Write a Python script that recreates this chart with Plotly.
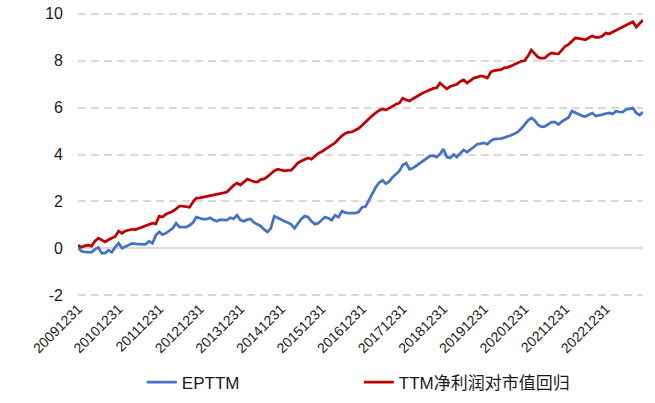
import pandas as pd
import plotly.graph_objects as go

# 月度日期（20091231 起，至 20231130）
dates = pd.date_range('2009-12-31', periods=168, freq='ME').strftime('%Y%m%d').tolist()
tick_labels = dates[::12]

y_ticks = [-2, 0, 2, 4, 6, 8, 10]

ep_ttm = [
    0.04, -0.13, -0.15, -0.17, -0.17, -0.05, 0.04, -0.21, -0.21, -0.09, -0.17, 0.05,
    0.21, 0.00, 0.08, 0.14, 0.21, 0.19, 0.17, 0.17, 0.17, 0.30, 0.21, 0.55,
    0.70, 0.58, 0.65, 0.74, 0.85, 1.07, 0.90, 0.90, 0.90, 0.98, 1.10, 1.33,
    1.28, 1.24, 1.24, 1.30, 1.22, 1.15, 1.22, 1.22, 1.20, 1.30, 1.26, 1.41,
    1.20, 1.15, 1.22, 1.25, 1.10, 1.02, 0.95, 0.80, 0.70, 0.85, 1.37, 1.30,
    1.22, 1.15, 1.10, 1.02, 0.85, 1.05, 1.25, 1.37, 1.33, 1.15, 1.03, 1.07,
    1.20, 1.33, 1.28, 1.20, 1.41, 1.33, 1.58, 1.52, 1.50, 1.50, 1.50, 1.55,
    1.75, 1.78, 2.05, 2.35, 2.60, 2.80, 2.90, 2.75, 2.85, 3.03, 3.18, 3.30,
    3.55, 3.63, 3.37, 3.42, 3.52, 3.63, 3.75, 3.85, 3.93, 3.95, 3.89, 4.02,
    4.23, 3.89, 3.85, 4.00, 3.89, 4.05, 4.19, 4.10, 4.20, 4.32, 4.44, 4.47,
    4.49, 4.44, 4.58, 4.66, 4.66, 4.68, 4.72, 4.76, 4.82, 4.88, 4.96, 5.10,
    5.26, 5.45, 5.56, 5.45, 5.26, 5.18, 5.20, 5.28, 5.38, 5.38, 5.28, 5.40,
    5.51, 5.58, 5.85, 5.80, 5.72, 5.65, 5.62, 5.70, 5.77, 5.64, 5.66, 5.70,
    5.75, 5.77, 5.73, 5.85, 5.82, 5.81, 5.92, 5.96, 5.98, 5.77, 5.68, 5.81,
]

ttm_reg = [
    0.13, 0.04, 0.10, 0.13, 0.09, 0.30, 0.43, 0.34, 0.27, 0.36, 0.42, 0.50,
    0.73, 0.64, 0.74, 0.79, 0.81, 0.80, 0.86, 0.92, 0.98, 1.04, 1.07, 1.04,
    1.37, 1.33, 1.45, 1.52, 1.58, 1.68, 1.80, 1.80, 1.78, 1.75, 1.98, 2.14,
    2.15, 2.18, 2.18, 2.22, 2.26, 2.28, 2.30, 2.36, 2.40, 2.55, 2.68, 2.78,
    2.70, 2.82, 2.95, 2.90, 2.84, 2.82, 2.93, 2.96, 3.05, 3.18, 3.30, 3.37,
    3.34, 3.30, 3.32, 3.33, 3.48, 3.64, 3.72, 3.80, 3.85, 3.80, 3.94, 4.05,
    4.12, 4.22, 4.30, 4.40, 4.50, 4.65, 4.80, 4.90, 4.95, 4.96, 5.05, 5.12,
    5.25, 5.40, 5.55, 5.66, 5.78, 5.88, 5.94, 5.90, 5.98, 6.07, 6.14, 6.20,
    6.40, 6.33, 6.28, 6.38, 6.48, 6.55, 6.63, 6.70, 6.78, 6.82, 6.84, 7.05,
    6.92, 6.80, 6.90, 6.95, 7.00, 7.12, 7.18, 7.05, 7.15, 7.26, 7.30, 7.35,
    7.32, 7.26, 7.52, 7.58, 7.60, 7.62, 7.70, 7.72, 7.78, 7.85, 7.93, 7.98,
    8.00, 8.20, 8.46, 8.30, 8.15, 8.10, 8.12, 8.25, 8.33, 8.30, 8.29, 8.45,
    8.62, 8.70, 8.85, 8.97, 8.95, 8.93, 8.89, 8.98, 9.06, 9.00, 9.00, 9.05,
    9.18, 9.15, 9.22, 9.30, 9.36, 9.42, 9.49, 9.56, 9.66, 9.44, 9.57, 9.74,
]

fig = go.Figure()
fig.add_trace(go.Scatter(x=dates, y=ep_ttm, mode='lines', name='EPTTM',
                         line=dict(color='#4472C4', width=2.75)))
fig.add_trace(go.Scatter(x=dates, y=ttm_reg, mode='lines', name='TTM净利润对市值回归',
                         line=dict(color='#C00000', width=2.75)))

fig.update_layout(
    width=655, height=403,
    margin=dict(l=78, r=12, t=12, b=106, autoexpand=False),
    paper_bgcolor='white', plot_bgcolor='white',
    font=dict(family='Liberation Sans, Arial, Noto Sans CJK SC', color='#1a1a1a'),
    showlegend=True,
    legend=dict(orientation='h', x=0.113, xanchor='left', y=-0.30, yanchor='middle',
                font=dict(size=17), entrywidth=172, entrywidthmode='pixels',
                bgcolor='rgba(0,0,0,0)'),
    xaxis=dict(type='category', range=[0, 167], tickmode='array',
               tickvals=tick_labels, ticktext=tick_labels, tickangle=-45,
               tickfont=dict(size=14), showgrid=False, showline=False,
               zeroline=False, ticks='', automargin=False),
    # 范围略放宽，保证 10 和 -2 两条网格线都画出来
    yaxis=dict(range=[-2.08, 10.08], tickvals=y_ticks, ticktext=[str(v) for v in y_ticks],
               tickfont=dict(size=16),
               showgrid=True, gridcolor='#D9D9D9', gridwidth=1.5, griddash='8px,5px',
               zeroline=True, zerolinecolor='#D9D9D9', zerolinewidth=1.5,
               showline=False, ticks='', ticklabelstandoff=14, automargin=False),
)

# 去掉页面 body 默认的 8px 边距，隐藏工具栏
fig.write_html('out.html', config={'displayModeBar': False},
               post_script="document.body.style.margin='0';")
